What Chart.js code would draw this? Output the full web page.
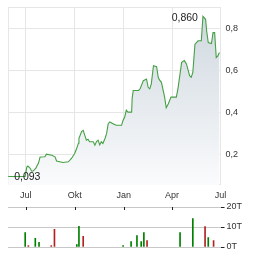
<!DOCTYPE html>
<html>
<head>
<meta charset="utf-8">
<script src="https://cdn.jsdelivr.net/npm/chart.js@4/dist/chart.umd.min.js"></script>
<style>
  html, body { margin: 0; padding: 0; background: #fff; }
  #wrap { position: relative; width: 264px; height: 255px; }
  #price { position: absolute; left: 0; top: 0; }
  #vol { position: absolute; left: 0; top: 200px; }
</style>
</head>
<body>
<div id="wrap">
  <canvas id="price" width="264" height="200"></canvas>
  <canvas id="vol" width="264" height="55"></canvas>
</div>
<script>
// ---- data ----
const startDate = "2023-07-01"; // reference for the x axis (day 0)
const priceDates = [
  "2023-05-29","2023-06-30","2023-07-03","2023-07-05","2023-07-09","2023-07-12","2023-07-15","2023-07-20",
  "2023-07-25","2023-07-28","2023-08-06","2023-08-09","2023-08-19","2023-08-25","2023-08-28","2023-09-09",
  "2023-09-19","2023-09-25","2023-10-01","2023-10-05","2023-10-08","2023-10-09","2023-10-14","2023-10-17",
  "2023-10-20","2023-10-23","2023-10-26","2023-10-29","2023-11-05","2023-11-08","2023-11-11","2023-11-14",
  "2023-11-17","2023-11-20","2023-11-23","2023-11-27","2023-11-30","2023-12-03","2023-12-06","2023-12-12",
  "2023-12-18","2023-12-28","2023-12-31","2024-01-03","2024-01-06","2024-01-09","2024-01-16","2024-01-17",
  "2024-01-19","2024-01-29","2024-02-01","2024-02-07","2024-02-13","2024-02-16","2024-02-19","2024-02-22",
  "2024-02-26","2024-03-03","2024-03-06","2024-03-08","2024-03-12","2024-03-18","2024-03-21","2024-03-25",
  "2024-03-30","2024-04-09","2024-04-12","2024-04-19","2024-04-24","2024-04-28","2024-05-04","2024-05-07",
  "2024-05-10","2024-05-14","2024-05-20","2024-05-26","2024-05-29","2024-06-03","2024-06-05","2024-06-08",
  "2024-06-14","2024-06-17","2024-06-20","2024-06-23","2024-06-26","2024-06-29"
];
const priceValues = [
  0.093,0.093,0.138,0.143,0.133,0.119,0.119,0.133,
  0.157,0.186,0.187,0.200,0.195,0.187,0.167,0.160,
  0.163,0.179,0.203,0.229,0.252,0.276,0.308,0.314,
  0.290,0.267,0.271,0.259,0.259,0.243,0.260,0.267,
  0.244,0.259,0.251,0.275,0.299,0.346,0.354,0.346,
  0.338,0.338,0.362,0.378,0.410,0.401,0.401,0.467,
  0.505,0.505,0.513,0.552,0.560,0.520,0.513,0.537,
  0.624,0.619,0.568,0.557,0.544,0.473,0.422,0.441,
  0.473,0.473,0.513,0.640,0.648,0.632,0.576,0.568,
  0.592,0.727,0.743,0.743,0.860,0.846,0.790,0.735,
  0.730,0.782,0.782,0.663,0.671,0.687
];
const volumeDates = [
  "2023-06-30","2023-07-06","2023-07-19","2023-07-26","2023-08-18","2023-08-24","2023-10-05","2023-10-09",
  "2023-10-17","2023-12-31","2024-01-15","2024-01-26","2024-02-03","2024-02-08","2024-02-14","2024-04-16",
  "2024-05-10","2024-06-02","2024-06-08","2024-06-18"
];
const volumeValues = [ // thousands
  7.2,0.7,4.3,2.3,0.7,8.8,1.2,10.3,
  5.3,0.7,2.7,5.7,2.7,7.2,3.2,7.2,
  14.2,10.2,4.7,3.2
];
const volumeUp = [ // 1 = up day, 0 = down day
  1,0,1,1,0,0,1,1,
  0,1,1,1,1,1,0,1,
  1,0,1,0
];
const xTickDates = ["2023-07-01","2023-10-01","2024-01-01","2024-04-01","2024-07-01"];
const xTickLabels = ["Jul","Okt","Jan","Apr","Jul"];
const priceTicks = [0.2, 0.4, 0.6, 0.8];
const volumeTicks = [0, 10, 20];

// ---- helpers ----
const DAY = 86400000;
const t0 = Date.parse(startDate + "T00:00:00Z");
const toDay = d => Math.round((Date.parse(d + "T00:00:00Z") - t0) / DAY);
const xTicks = xTickDates.map(toDay);
const xMin = -33.3, xMax = toDay("2024-07-01");
const FONT = "'Liberation Sans', Arial, sans-serif";
const TXT = '#333';
const GRID = '#e6e6e6';
const fmt = v => v.toFixed(1).replace('.', ',');
const fmt3 = v => v.toFixed(3).replace('.', ',');
const noPad = s => { s.paddingTop = 0; s.paddingBottom = 0; s.paddingLeft = 0; s.paddingRight = 0; };

const borderPlugin = {
  id: 'areaBorder',
  beforeDatasetsDraw(chart) {
    const a = chart.chartArea, c = chart.ctx;
    c.save();
    c.strokeStyle = GRID; c.lineWidth = 1;
    c.strokeRect(Math.round(a.left) + 0.5, Math.round(a.top) + 0.5,
                 Math.round(a.right - a.left) - 1, Math.round(a.bottom - a.top) - 1);
    c.restore();
  }
};

const extremaPlugin = {
  id: 'extrema',
  afterDatasetsDraw(chart) {
    const c = chart.ctx, xs = chart.scales.x, ys = chart.scales.y;
    let iMax = 0, iMin = 0;
    priceValues.forEach((v, i) => { if (v > priceValues[iMax]) iMax = i; if (v < priceValues[iMin]) iMin = i; });
    c.save();
    c.font = "10.5px " + FONT;
    c.fillStyle = '#222';
    c.textBaseline = 'middle';
    c.textAlign = 'right';
    c.fillText(fmt3(priceValues[iMax]), xs.getPixelForValue(toDay(priceDates[iMax])) - 5, ys.getPixelForValue(priceValues[iMax]) + 2);
    c.textAlign = 'left';
    c.fillText(fmt3(priceValues[iMin]), xs.getPixelForValue(toDay(priceDates[iMin])) + 6, ys.getPixelForValue(priceValues[iMin]) + 1);
    c.restore();
  }
};

// ---- price chart ----
new Chart(document.getElementById('price'), {
  type: 'line',
  data: {
    datasets: [{
      data: priceDates.map((d, i) => ({ x: toDay(d), y: priceValues[i] })),
      borderColor: '#45a045',
      borderWidth: 1.1,
      pointRadius: 0,
      tension: 0,
      fill: 'start',
      backgroundColor(ctx) {
        const a = ctx.chart.chartArea;
        if (!a) return 'rgba(200,210,220,0.5)';
        const g = ctx.chart.ctx.createLinearGradient(0, a.top, 0, a.bottom);
        g.addColorStop(0, '#cdd6de');
        g.addColorStop(1, '#fafbfc');
        return g;
      }
    }]
  },
  options: {
    responsive: false,
    animation: false,
    layout: { padding: { left: 8, top: 7, right: 0, bottom: 0 } },
    plugins: { legend: { display: false }, tooltip: { enabled: false } },
    scales: {
      x: {
        type: 'linear', min: xMin, max: xMax,
        afterBuildTicks(s) { s.ticks = xTicks.map(v => ({ value: v })); },
        afterFit(s) { s.height = 15; noPad(s); },
        grid: { color: GRID, drawTicks: false },
        border: { display: false },
        ticks: {
          padding: 5, color: TXT, font: { family: FONT, size: 9 }, maxRotation: 0,
          callback(v) { const i = xTicks.indexOf(v); return i >= 0 ? xTickLabels[i] : ''; }
        }
      },
      y: {
        position: 'right', min: 0.052, max: 0.905,
        afterBuildTicks(s) { s.ticks = priceTicks.map(v => ({ value: v })); },
        afterFit(s) { s.width = 43.5; noPad(s); },
        grid: { color: GRID, drawTicks: false },
        border: { display: false },
        ticks: { padding: 5, color: TXT, font: { family: FONT, size: 9 }, callback: v => fmt(v) }
      }
    }
  },
  plugins: [borderPlugin, extremaPlugin]
});

// ---- volume chart ----
const monthTickPlugin = {
  id: 'monthTicks',
  afterDraw(chart) {
    const c = chart.ctx, xs = chart.scales.x, a = chart.chartArea;
    c.save();
    c.strokeStyle = '#222'; c.lineWidth = 1;
    xTicks.slice(0, 4).forEach(v => {
      const px = Math.round(xs.getPixelForValue(v)) + 0.5;
      c.beginPath(); c.moveTo(px, a.top); c.lineTo(px, a.top + 3); c.stroke();
    });
    c.restore();
  }
};

new Chart(document.getElementById('vol'), {
  type: 'bar',
  data: {
    datasets: [{
      data: volumeDates.map((d, i) => ({ x: toDay(d), y: volumeValues[i] })),
      backgroundColor: volumeUp.map(u => u ? '#008000' : '#b22222'),
      barThickness: 1,
      borderWidth: 0
    }]
  },
  options: {
    responsive: false,
    animation: false,
    layout: { padding: { left: 8, top: 7, right: 0, bottom: 8 } },
    plugins: { legend: { display: false }, tooltip: { enabled: false } },
    scales: {
      x: { type: 'linear', min: xMin, max: xMax, offset: false, display: false, grid: { offset: false } },
      y: {
        position: 'right', min: 0, max: 20,
        afterBuildTicks(s) { s.ticks = volumeTicks.map(v => ({ value: v })); },
        afterFit(s) { s.width = 43.5; noPad(s); },
        grid: { color: '#c8c8c8', drawTicks: true, tickLength: 4, tickColor: '#222' },
        border: { display: false },
        ticks: { padding: 2, color: TXT, font: { family: FONT, size: 9 }, callback: v => v + 'T' }
      }
    }
  },
  plugins: [monthTickPlugin]
});
</script>
</body>
</html>
